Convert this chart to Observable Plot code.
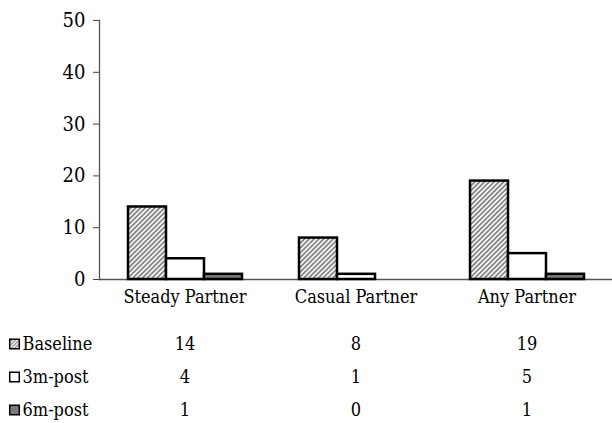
<!DOCTYPE html>
<html><head><meta charset="utf-8">
<script src="https://cdn.jsdelivr.net/npm/d3@7"></script>
<script src="https://cdn.jsdelivr.net/npm/@observablehq/plot@0.6"></script>
<style>
html,body{margin:0;background:#fff;color:#000;overflow:hidden;}
#chart svg{display:block;}
#chart svg text{font-stretch:condensed;}
</style></head><body><div id="chart"></div>
<script>
const categories = ["Steady Partner", "Casual Partner", "Any Partner"];
const series = ["Baseline", "3m-post", "6m-post"];
const baseline = [14, 8, 19];
const post3m = [4, 1, 5];
const post6m = [1, 0, 1];
const yTicks = [0, 10, 20, 30, 40, 50];
const seriesFills = ["url(#hatch)", "#ffffff", "#7a7a7a"];
const FONT = "'DejaVu Serif Condensed', 'DejaVu Serif', serif";

const valuesBySeries = [baseline, post3m, post6m];
const data = series.flatMap((s, i) => categories.map((c, j) => ({category: c, series: s, value: valuesBySeries[i][j]})));

const plot = Plot.plot({
  width: 612, height: 315,
  marginTop: 20, marginBottom: 36, marginLeft: 98, marginRight: 0,
  style: {fontFamily: FONT, fontSize: "18px", color: "#000", background: "#fff"},
  fx: {domain: categories, padding: 0, label: null},
  x: {domain: series, paddingInner: 0, paddingOuter: 0.7, axis: null},
  y: {domain: [0, 50]},
  color: {domain: series, range: seriesFills},
  marks: [
    Plot.ruleY([0], {stroke: "#555", strokeWidth: 1.3}),
    Plot.barY(data.filter(d => d.value > 0), {fx: "category", x: "series", y: "value", fill: "series", stroke: "#000", strokeWidth: 2.5}),
    Plot.axisY({ticks: yTicks, tickSize: 6, tickPadding: 8, label: null, stroke: "#444", fontSize: 20}),
    Plot.axisFx({tickSize: 0, tickPadding: 11, label: null, fontSize: 18, anchor: "bottom"}),
    Plot.frame({anchor: "left", facetAnchor: "left", stroke: "#555", strokeWidth: 1.3})
  ]
});
d3.select(plot).insert("defs", ":first-child").html(
  '<pattern id="hatch" width="3.4" height="3.4" patternUnits="userSpaceOnUse" patternTransform="rotate(45)">' +
  '<rect width="3.4" height="3.4" fill="#f4f4f4"/><line x1="0.8" y1="0" x2="0.8" y2="3.4" stroke="#777" stroke-width="1.5"/></pattern>' +
  '<pattern id="hatch2" width="2.6" height="2.6" patternUnits="userSpaceOnUse" patternTransform="rotate(45)">' +
  '<rect width="2.6" height="2.6" fill="#fff"/><line x1="0.6" y1="0" x2="0.6" y2="2.6" stroke="#777" stroke-width="1.1"/></pattern>');
document.getElementById("chart").append(plot);

// Data table below the chart (columns aligned with the categories)
const table = Plot.plot({
  width: 612, height: 113,
  marginTop: 11, marginBottom: 1, marginLeft: 98, marginRight: 0,
  style: {fontFamily: FONT, fontSize: "18px", color: "#000", background: "#fff"},
  x: {type: "band", domain: categories, padding: 0, axis: null},
  y: {type: "band", domain: series, padding: 0, axis: null},
  color: {domain: series, range: ["url(#hatch2)", "#ffffff", "#7a7a7a"]},
  marks: [
    Plot.text(data, {x: "category", y: "series", text: "value", textAnchor: "middle", fontSize: 18}),
    Plot.dot(series, {y: d => d, frameAnchor: "left", dx: -84, symbol: "square", r: 5.4, fill: d => d, stroke: "#000", strokeWidth: 1.5}),
    Plot.text(series, {y: d => d, text: d => d, frameAnchor: "left", dx: -76, textAnchor: "start", fontSize: 18})
  ]
});
document.getElementById("chart").append(table);
</script></body></html>
